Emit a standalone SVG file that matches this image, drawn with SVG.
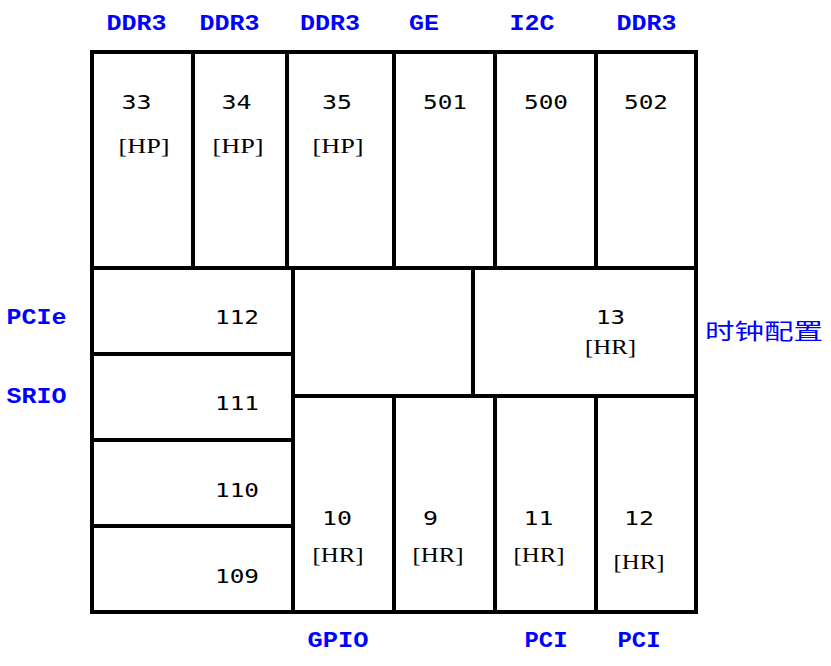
<svg xmlns="http://www.w3.org/2000/svg" width="831" height="666" viewBox="0 0 831 666">
<style>
.cell{fill:#fff;stroke:#000;stroke-width:4}
.num{font-family:"DejaVu Sans Mono","Liberation Mono",monospace;font-size:20px;fill:#000;text-anchor:middle}
.tag{font-family:"Liberation Serif","DejaVu Serif",serif;font-size:21px;fill:#000;text-anchor:middle}
.lbl{font-family:"Liberation Mono","DejaVu Sans Mono",monospace;font-weight:bold;font-size:22px;fill:#0000ff;text-anchor:middle}
.cjk{font-family:"Noto Sans CJK SC","Noto Sans",sans-serif;font-size:22px;fill:#0000ff;text-anchor:middle}
</style>
<rect width="831" height="666" fill="#fff"/>
<g id="b33"><rect class="cell" x="92" y="52" width="101" height="216"/><text class="num" x="136.5" y="109" textLength="30" lengthAdjust="spacingAndGlyphs">33</text><text class="tag" x="144" y="153" textLength="51" lengthAdjust="spacingAndGlyphs">[HP]</text></g>
<g id="b34"><rect class="cell" x="193" y="52" width="94" height="216"/><text class="num" x="236.5" y="109" textLength="30" lengthAdjust="spacingAndGlyphs">34</text><text class="tag" x="238" y="153" textLength="51" lengthAdjust="spacingAndGlyphs">[HP]</text></g>
<g id="b35"><rect class="cell" x="287" y="52" width="107" height="216"/><text class="num" x="337" y="109" textLength="30" lengthAdjust="spacingAndGlyphs">35</text><text class="tag" x="338" y="153" textLength="51" lengthAdjust="spacingAndGlyphs">[HP]</text></g>
<g id="b501"><rect class="cell" x="394" y="52" width="101" height="216"/><text class="num" x="445" y="109" textLength="44" lengthAdjust="spacingAndGlyphs">501</text></g>
<g id="b500"><rect class="cell" x="495" y="52" width="101" height="216"/><text class="num" x="546" y="109" textLength="44" lengthAdjust="spacingAndGlyphs">500</text></g>
<g id="b502"><rect class="cell" x="596" y="52" width="100" height="216"/><text class="num" x="646" y="109" textLength="44" lengthAdjust="spacingAndGlyphs">502</text></g>
<g id="b112"><rect class="cell" x="92" y="268" width="201" height="86"/><text class="num" x="237" y="324" textLength="44" lengthAdjust="spacingAndGlyphs">112</text></g>
<g id="b111"><rect class="cell" x="92" y="354" width="201" height="86"/><text class="num" x="237" y="410" textLength="44" lengthAdjust="spacingAndGlyphs">111</text></g>
<g id="b110"><rect class="cell" x="92" y="440" width="201" height="86"/><text class="num" x="237" y="497" textLength="44" lengthAdjust="spacingAndGlyphs">110</text></g>
<g id="b109"><rect class="cell" x="92" y="526" width="201" height="86"/><text class="num" x="237" y="583" textLength="44" lengthAdjust="spacingAndGlyphs">109</text></g>
<g id="center"><rect class="cell" x="293" y="268" width="180" height="128"/></g>
<g id="b13"><rect class="cell" x="473" y="268" width="223" height="128"/><text class="num" x="610.5" y="324" textLength="29" lengthAdjust="spacingAndGlyphs">13</text><text class="tag" x="610.5" y="354" textLength="51" lengthAdjust="spacingAndGlyphs">[HR]</text></g>
<g id="b10"><rect class="cell" x="293" y="396" width="101" height="216"/><text class="num" x="337" y="525" textLength="30" lengthAdjust="spacingAndGlyphs">10</text><text class="tag" x="338" y="562" textLength="51" lengthAdjust="spacingAndGlyphs">[HR]</text></g>
<g id="b9"><rect class="cell" x="394" y="396" width="101" height="216"/><text class="num" x="430.5" y="525" textLength="15" lengthAdjust="spacingAndGlyphs">9</text><text class="tag" x="438" y="562" textLength="51" lengthAdjust="spacingAndGlyphs">[HR]</text></g>
<g id="b11"><rect class="cell" x="495" y="396" width="101" height="216"/><text class="num" x="538.5" y="525" textLength="30" lengthAdjust="spacingAndGlyphs">11</text><text class="tag" x="539" y="562" textLength="51" lengthAdjust="spacingAndGlyphs">[HR]</text></g>
<g id="b12"><rect class="cell" x="596" y="396" width="100" height="216"/><text class="num" x="639" y="525" textLength="30" lengthAdjust="spacingAndGlyphs">12</text><text class="tag" x="639" y="569" textLength="51" lengthAdjust="spacingAndGlyphs">[HR]</text></g>
<g id="labels">
<text class="lbl" x="136.5" y="30" textLength="60" lengthAdjust="spacingAndGlyphs">DDR3</text>
<text class="lbl" x="229.5" y="30" textLength="60" lengthAdjust="spacingAndGlyphs">DDR3</text>
<text class="lbl" x="330" y="30" textLength="60" lengthAdjust="spacingAndGlyphs">DDR3</text>
<text class="lbl" x="424" y="30" textLength="30" lengthAdjust="spacingAndGlyphs">GE</text>
<text class="lbl" x="532" y="30" textLength="45" lengthAdjust="spacingAndGlyphs">I2C</text>
<text class="lbl" x="646.5" y="30" textLength="60" lengthAdjust="spacingAndGlyphs">DDR3</text>
<text class="lbl" x="36.5" y="324" textLength="60" lengthAdjust="spacingAndGlyphs">PCIe</text>
<text class="lbl" x="36.5" y="403" textLength="60" lengthAdjust="spacingAndGlyphs">SRIO</text>
<text class="cjk" x="764" y="339" textLength="118" lengthAdjust="spacingAndGlyphs">时钟配置</text>
<text class="lbl" x="338" y="647" textLength="61" lengthAdjust="spacingAndGlyphs">GPIO</text>
<text class="lbl" x="546" y="647" textLength="43" lengthAdjust="spacingAndGlyphs">PCI</text>
<text class="lbl" x="639" y="647" textLength="43" lengthAdjust="spacingAndGlyphs">PCI</text>
</g>
<g id="connectors"/>
</svg>
